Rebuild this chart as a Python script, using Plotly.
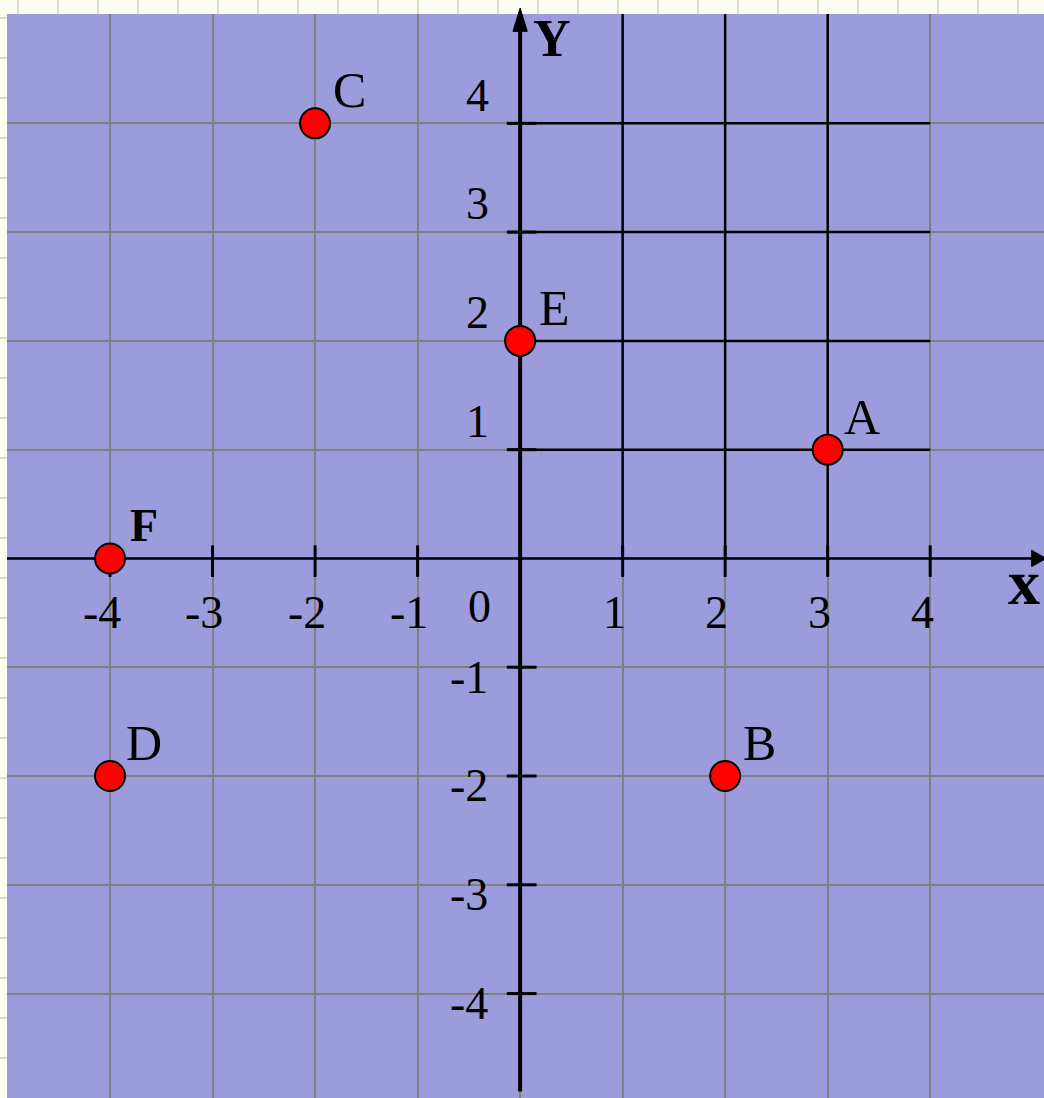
import plotly.graph_objects as go

# ---- data ----
point_names = ["A", "B", "C", "D", "E", "F"]
point_x = [3, 2, -2, -4, 0, -4]
point_y = [1, -2, 4, -2, 2, 0]
x_ticks = [-4, -3, -2, -1, 1, 2, 3, 4]
y_ticks = [-4, -3, -2, -1, 1, 2, 3, 4]
x_grid = [-5, -4, -3, -2, -1, 0, 1, 2, 3, 4]
y_grid = [-4, -3, -2, -1, 0, 1, 2, 3, 4, 5]
quad_vlines = [1, 2, 3]          # black vertical lines in quadrant I
quad_hlines = [1, 2, 3, 4]       # black horizontal lines in quadrant I
quad_extent = 4

XR = [-5.005, 5.11]
YR = [-4.96, 5.005]
FONT = "Liberation Serif, Times New Roman, serif"
W, H = 1044, 1098
ML, MT = 7, 14

fig = go.Figure()


def seg_trace(xs, ys, width):
    return go.Scatter(x=xs, y=ys, mode="lines", line=dict(color="black", width=width),
                      hoverinfo="skip", showlegend=False)


# quadrant I black grid
qx, qy = [], []
for v in quad_vlines:
    qx += [v, v, None]
    qy += [0, YR[1], None]
for v in quad_hlines:
    qx += [-0.12, quad_extent, None]
    qy += [v, v, None]
fig.add_trace(seg_trace(qx, qy, 2.5))

# x axis
fig.add_trace(seg_trace([XR[0], XR[1]], [0, 0], 2.5))

# ticks
tx, ty = [], []
for v in y_ticks:
    tx += [-0.13, 0.16, None]
    ty += [v, v, None]
for v in x_ticks:
    tx += [v, v, None]
    ty += [-0.17, 0.12, None]
fig.add_trace(seg_trace(tx, ty, 3))

# y axis
fig.add_trace(seg_trace([0, 0], [-4.9, YR[1]], 4))

# points
fig.add_trace(go.Scatter(
    x=point_x, y=point_y, mode="markers",
    marker=dict(size=30, color="#FF0000", line=dict(color="black", width=2)),
    hoverinfo="text", text=point_names, cliponaxis=False, showlegend=False,
))

shapes = []
# faint graph-paper lines in the page margin (decoration)
pw, ph = W - ML, H - MT
for px in range(18, W, 40):
    xp = (px - ML) / pw
    shapes.append(dict(type="line", xref="paper", yref="paper", x0=xp, x1=xp,
                       y0=1.0, y1=1.0 + MT / ph, line=dict(color="#DCDCC8", width=2),
                       layer="below"))
for py in range(18, H, 40):
    yp = 1.0 - (py - MT) / ph
    shapes.append(dict(type="line", xref="paper", yref="paper", x0=-ML / pw, x1=0,
                       y0=yp, y1=yp, line=dict(color="#DCDCC8", width=2), layer="below"))
shapes += [
    # y arrow head (reaches above plot area)
    dict(type="line", xref="x", yref="paper", x0=0, x1=0, y0=0.99, y1=1.0,
         line=dict(color="black", width=4)),
    dict(type="path", xref="x", yref="paper",
         path="M -0.07,0.984 L 0,1.0055 L 0.07,0.984 Z",
         fillcolor="black", line=dict(color="black", width=1)),
    # x arrow head
    dict(type="path", xref="x", yref="y",
         path="M 4.99,0.075 L 5.13,0 L 4.99,-0.075 Z",
         fillcolor="black", line=dict(color="black", width=1)),
]

annotations = []
NUM = dict(family=FONT, size=46, color="black")
for v in x_ticks:
    annotations.append(dict(x=v - 0.08, y=-0.5, text=str(v), showarrow=False, font=NUM))
annotations.append(dict(x=-0.4, y=-0.44, text="0", showarrow=False, font=NUM))
for v in y_ticks:
    if v > 0:
        annotations.append(dict(x=-0.42, y=v + 0.26, text=str(v), showarrow=False, font=NUM))
    else:
        annotations.append(dict(x=-0.5, y=v - 0.09, text=str(v), showarrow=False, font=NUM))
annotations.append(dict(x=0.31, y=4.78, text="<b>Y</b>", showarrow=False,
                        font=dict(family=FONT, size=52, color="black")))
annotations.append(dict(x=4.91, y=-0.22, text="<b>x</b>", showarrow=False,
                        font=dict(family=FONT, size=64, color="black")))

for n, x, y in zip(point_names, point_x, point_y):
    if n == "F":
        txt, fs = "<b>F</b>", 46
    else:
        txt, fs = n, 50
    annotations.append(dict(x=x, y=y, text=txt, showarrow=False, xshift=34, yshift=33,
                            font=dict(family=FONT, size=fs, color="black")))

fig.update_layout(
    width=W, height=H,
    margin=dict(l=ML, r=0, t=MT, b=0),
    paper_bgcolor="#FDFDF2",
    plot_bgcolor="#9C9CDC",
    showlegend=False,
    shapes=shapes,
    annotations=annotations,
    xaxis=dict(range=XR, tickmode="array", tickvals=x_grid, showgrid=True,
               gridcolor="#808080", gridwidth=2,
               zeroline=False, showticklabels=False, ticks="", fixedrange=True),
    yaxis=dict(range=YR, tickmode="array", tickvals=y_grid, showgrid=True,
               gridcolor="#808080", gridwidth=2,
               zeroline=False, showticklabels=False, ticks="", fixedrange=True),
)

fig.write_html("out.html", config={"displayModeBar": False},
               post_script="document.body.style.margin='0';document.body.style.overflow='hidden';")
